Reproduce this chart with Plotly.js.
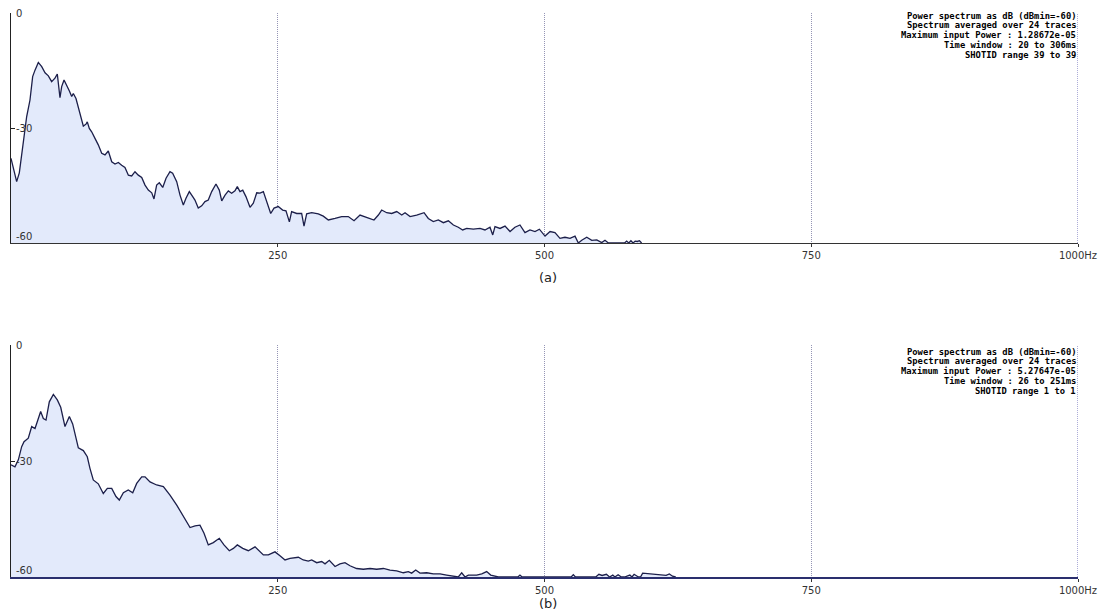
<!DOCTYPE html>
<html>
<head>
<meta charset="utf-8">
<script src="https://cdn.plot.ly/plotly-3.0.1.min.js"></script>
<style>html,body{margin:0;padding:0;background:#fff}#chart{width:1100px;height:612px}</style>
</head>
<body>
<div id="chart"></div>
<script>
// ---- data ----
const DB_MIN = -60;
const xTickVals = [250, 500, 750, 1000];
const xTickText = ['250', '500', '750', '1000Hz'];
const yTickVals = [0, -30, -60];
const yTickText = ['0', '-30', '-60'];

const freqA = [0,5.3,7.8,11,14.7,17.8,20.3,22.5,25.6,28.8,31.9,35,38.1,41.2,43.4,45.9,47.5,49.7,52.2,54.6,56.9,58.4,60.9,64.7,67.8,70.3,71.5,73.4,75.6,78.7,81.8,85,88.1,91.2,94.4,97.5,100.6,103.7,106.8,110,113.1,116.2,119.3,122.5,125.6,128.7,131.9,134,136.5,139,142.2,145.3,149,151.5,155.3,158.4,161.5,164,167.1,170.3,172.4,175.5,178.7,181.8,184.9,188.1,192.1,195.2,197.5,200.6,203.7,206.8,209.9,212.1,214.6,217.2,220.2,224,227.1,230.3,233.4,236.5,239.6,243.4,246.5,250.5,254.6,257.7,260.9,263,267.8,272.4,274.6,277.1,281.8,288,292.7,297.4,303.7,309.9,316.1,321.5,327.1,331.8,336.5,340.2,344.3,347.4,352.1,356.8,361.5,366.2,369.3,374,380.2,387.1,391.1,395.8,400.5,405.2,409.9,414.6,419.2,423.3,427.1,433.3,439.6,444.2,448.9,451.5,453.6,458.3,463,467.7,472.3,477,481.7,486.4,491.1,495.2,500.5,505.2,509.8,514.5,519.2,523.9,528.6,531.7,534.9,539.6,544.3,549,553.6,556.7,559.9,566,575,577,579,581,583,585,587,589,591];
const dbA = [-37.9,-44.0,-41.7,-34.9,-27.0,-22.7,-16.6,-14.9,-12.9,-14.0,-15.6,-16.4,-17.9,-17.0,-15.9,-22.1,-19.2,-17.5,-18.8,-20.3,-21.8,-21.0,-22.3,-26.2,-29.5,-29.0,-28.4,-30.1,-31.0,-32.7,-34.4,-36.6,-37.0,-36.0,-38.8,-39.4,-39.0,-39.7,-40.3,-42.3,-42.5,-41.4,-42.3,-42.9,-44.9,-46.2,-46.9,-48.5,-44.9,-44.3,-45.5,-43.1,-41.4,-41.8,-44.0,-47.5,-50.1,-48.3,-46.6,-47.9,-48.8,-50.9,-50.3,-49.2,-48.8,-46.6,-44.6,-46.2,-49.0,-47.5,-46.4,-47.0,-46.4,-45.3,-46.6,-46.2,-47.9,-50.7,-49.6,-46.9,-47.0,-46.6,-49.4,-52.3,-50.9,-50.5,-51.4,-51.6,-54.5,-51.8,-52.3,-52.3,-55.6,-52.4,-52.1,-52.4,-53.0,-54.0,-53.6,-53.1,-53.1,-54.2,-52.7,-53.1,-53.6,-54.0,-52.7,-51.4,-52.1,-52.3,-51.8,-52.7,-52.1,-53.1,-52.7,-52.1,-53.6,-54.4,-54.0,-54.7,-54.2,-55.3,-55.9,-56.6,-56.2,-56.4,-56.2,-56.6,-55.9,-57.9,-55.7,-56.2,-55.6,-57.0,-55.9,-55.3,-57.3,-56.6,-57.0,-56.4,-58.2,-57.0,-57.3,-58.8,-58.5,-58.8,-58.2,-60.0,-59.3,-58.5,-59.3,-59.2,-59.9,-59.3,-60.0,-60.0,-60.0,-59.5,-60.0,-59.4,-60.0,-59.5,-59.6,-59.4,-60.0];

const freqB = [0,3.7,6.9,10,12.2,16.2,19.4,22.5,24.7,27.8,30.3,32.8,35.9,39.7,43.4,46.6,50.6,54.7,57.8,60,63.1,67.8,71.5,74,77.1,81.8,86.5,90.3,94.4,98.4,101.5,105.3,109.9,114.1,117.8,122.5,125.6,130.3,136.5,142.8,149,155.3,161.5,167.8,172.5,177.1,180.9,184.9,189.6,195.2,199.6,204.6,208.4,212.1,217.2,222.4,228.7,231.8,236.5,241.2,247.4,252.1,256.8,261.5,269.3,273.9,278.6,281.8,286.5,291.2,294.3,298.3,303.7,308.3,313,317.7,323.9,330.2,336.5,342.7,349,355.2,361.5,367.7,372.4,375.5,379.3,383.3,389.6,395.8,402.1,408.3,414.5,419.2,422.4,425.5,428.6,436.4,441.2,445.8,449.6,453.6,456.7,475,477,479,525,527,529,548,551,554,558,561,564,566,569,572,575,580,582,584,588,590,592,614,617,620,623,626,629];
const dbB = [-31.0,-31.5,-29.7,-26.3,-25.0,-24.1,-21.1,-21.6,-19.8,-17.2,-19.0,-19.4,-14.7,-12.8,-14.2,-16.1,-21.1,-18.5,-20.4,-22.8,-26.6,-27.3,-28.9,-31.9,-34.9,-35.9,-38.4,-37.1,-37.1,-39.2,-40.1,-38.2,-37.5,-38.2,-35.8,-34.1,-34.1,-35.4,-36.2,-36.6,-38.8,-41.4,-44.4,-47.2,-46.8,-46.6,-48.7,-51.7,-51.1,-50.0,-51.7,-53.2,-52.6,-51.7,-52.6,-53.2,-52.2,-53.0,-54.3,-54.3,-53.5,-54.5,-55.6,-55.2,-54.9,-55.6,-55.9,-55.6,-56.3,-56.0,-56.6,-55.7,-57.3,-56.6,-56.3,-57.1,-57.8,-58.0,-57.8,-58.0,-57.8,-58.2,-58.4,-58.9,-58.6,-59.0,-58.2,-59.0,-58.9,-59.2,-59.2,-59.5,-59.7,-60.0,-58.9,-60.0,-59.5,-59.5,-59.2,-58.6,-59.5,-59.8,-60.0,-60.0,-59.5,-60.0,-60.0,-59.4,-60.0,-60.0,-59.3,-59.6,-59.3,-60.0,-59.5,-60.0,-59.4,-60.0,-60.0,-59.5,-60.0,-59.3,-60.0,-60.0,-59.0,-59.6,-59.2,-59.8,-60.0];

const infoA = ['Power spectrum as dB (dBmin=-60)', 'Spectrum averaged over 24 traces', 'Maximum input Power : 1.28672e-05', 'Time window : 20 to 306ms', 'SHOTID range 39 to 39'];
const infoB = ['Power spectrum as dB (dBmin=-60)', 'Spectrum averaged over 24 traces', 'Maximum input Power : 5.27647e-05', 'Time window : 26 to 251ms', 'SHOTID range 1 to 1'];
const panelLabels = ['(a)', '(b)'];

// ---- geometry (pixels in a 1100x612 figure with zero margins) ----
const W = 1100, H = 612;
const px = v => v / W, py = v => 1 - v / H;

const lineColor = '#1c1f4a', fillColor = '#e3eafb';
const gridColor = '#9595b5';

function panelTraces(freq, db, xa, ya) {
  return [
    { x: freq, y: freq.map(() => DB_MIN), xaxis: xa, yaxis: ya, mode: 'lines',
      line: { width: 0, color: 'rgba(0,0,0,0)' }, hoverinfo: 'skip', showlegend: false },
    { x: freq, y: db, xaxis: xa, yaxis: ya, mode: 'lines', fill: 'tonexty',
      fillcolor: fillColor, line: { color: lineColor, width: 1.3 }, showlegend: false }
  ];
}

const data = [...panelTraces(freqA, dbA, 'x', 'y'), ...panelTraces(freqB, dbB, 'x2', 'y2')];

function xAxis(anchor, lc, lw) {
  return {
    domain: [px(11), px(1078)], range: [0, 1000], anchor: anchor,
    tickvals: xTickVals, ticktext: xTickText, ticks: 'outside', ticklen: 3, tickcolor: '#333',
    showline: true, linecolor: lc, linewidth: lw,
    showgrid: true, gridcolor: gridColor, griddash: '1px,1px', gridwidth: 1,
    zeroline: false, fixedrange: true,
    tickfont: { family: 'DejaVu Sans', size: 10, color: '#333' }
  };
}
function yAxis(anchor, top, bottom) {
  return {
    domain: [py(bottom), py(top)], range: [DB_MIN, 0], anchor: anchor,
    tickvals: yTickVals, ticks: 'inside', ticklen: 4, tickcolor: '#222',
    showticklabels: false, showline: true, linecolor: '#222', linewidth: 1.3,
    showgrid: false, zeroline: false, fixedrange: true
  };
}

const annotations = [];
const shapes = [];
// y tick labels (drawn inside the plot, right of the axis)
['y', 'y2'].forEach(ya => {
  yTickVals.forEach((v, i) => annotations.push({
    text: yTickText[i], xref: 'paper', yref: ya, x: px(15), y: v,
    xanchor: 'left', yanchor: i === yTickVals.length - 1 ? 'bottom' : 'middle', showarrow: false,
    borderpad: 0, font: { family: 'DejaVu Sans', size: 10, color: '#333' }
  }));
});
// last gridline at the right edge (Plotly drops it)
[['x', 'y'], ['x2', 'y2']].forEach(([xa, ya]) => shapes.push({
  type: 'line', xref: xa, yref: ya + ' domain', x0: xTickVals[xTickVals.length - 1], x1: xTickVals[xTickVals.length - 1],
  y0: 0, y1: 1, line: { color: '#5a5ab0', width: 1, dash: '1px,1px' }
}));

const linePosA = [15.5, 25.3, 35.1, 44.9, 54.7];
const linePosB = [351.5, 361.3, 371.1, 380.9, 390.7];
function addInfo(lines, pos) {
  lines.forEach((t, i) => annotations.push({
    text: t, xref: 'paper', yref: 'paper', x: px(1077), y: py(pos[i]),
    xanchor: 'right', yanchor: 'middle', showarrow: false, borderpad: 0,
    font: { family: 'DejaVu Sans Mono', size: 8.8, color: '#000', weight: 'bold' }
  }));
}
addInfo(infoA, linePosA);
addInfo(infoB, linePosB);
[[panelLabels[0], 278], [panelLabels[1], 603]].forEach(([t, y]) => annotations.push({
  text: t, xref: 'paper', yref: 'paper', x: px(548), y: py(y), xanchor: 'center', yanchor: 'middle',
  showarrow: false, borderpad: 0, font: { family: 'DejaVu Sans', size: 13, color: '#222' }
}));

const layout = {
  width: W, height: H, margin: { l: 0, r: 0, t: 0, b: 0 },
  paper_bgcolor: '#fff', plot_bgcolor: 'rgba(0,0,0,0)',
  xaxis: xAxis('y', '#333', 1.4), yaxis: yAxis('x', 13, 243),
  xaxis2: xAxis('y2', '#2a2f6e', 2), yaxis2: yAxis('x2', 345, 577),
  annotations: annotations, shapes: shapes, showlegend: false
};

Plotly.newPlot('chart', data, layout, { displayModeBar: false, staticPlot: true });
</script>
</body>
</html>
